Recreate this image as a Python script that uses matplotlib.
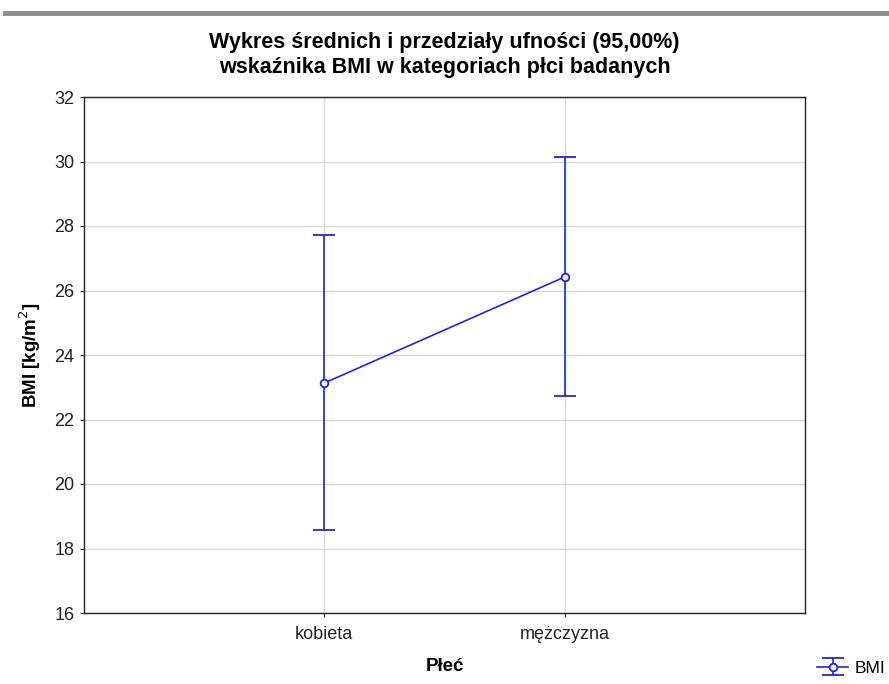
import numpy as np
import matplotlib
matplotlib.use("Agg")
import matplotlib.pyplot as plt

plt.rcParams['font.family'] = ['Liberation Sans', 'DejaVu Sans']

categories = ['kobieta', 'mężczyzna']
means = [23.13, 26.42]
lower = [18.57, 22.73]
upper = [27.72, 30.15]
yticks = [16, 18, 20, 22, 24, 26, 28, 30, 32]

x = np.arange(1, len(categories) + 1)
err = [np.array(means) - np.array(lower), np.array(upper) - np.array(means)]

fig = plt.figure(figsize=(8.89, 6.84), dpi=100)
ax = fig.add_axes([84 / 889, 1 - 613 / 684, 721 / 889, 516 / 684])

# grey rule at the top of the page
fig.add_artist(plt.Line2D([5 / 889, 1.0], [1 - 13 / 684] * 2, color='#8c8c8c', lw=3.5))

ax.errorbar(x, means, yerr=err, color='#2222ee', lw=1.2, capsize=8, capthick=1.2,
            marker='o', markersize=5.5, mfc='white', mec='#2222ee', mew=1.3, label='BMI', zorder=3)

ax.set_xlim(0, 3)
ax.set_ylim(16, 32)
ax.set_yticks(yticks)
ax.set_xticks(x)
ax.set_xticklabels(categories)
ax.grid(True, color='#d9d9d9', lw=1)
ax.set_axisbelow(True)
ax.tick_params(labelsize=13, length=3, width=0.8, colors='#222222')
ax.tick_params(axis='x', pad=6.5)
ax.tick_params(axis='y', pad=4)
for s in ax.spines.values():
    s.set_color('#222222')
    s.set_linewidth(1)

ax.set_ylabel('BMI [kg/m$^2$]', fontsize=13.5, fontweight='bold', labelpad=8)
ax.set_xlabel('Płeć', fontsize=13.5, fontweight='bold', labelpad=11)
ax.set_title('Wykres średnich i przedziały ufności (95,00%)\nwskaźnika BMI w kategoriach płci badanych',
             fontsize=15.5, fontweight='bold', pad=17, linespacing=1.28)

fig.legend(loc='center left', bbox_to_anchor=(810 / 889, 1 - 668 / 684), frameon=False, fontsize=12.5,
           handlelength=1.8, handletextpad=0.35, borderaxespad=0.0, borderpad=0.4)

fig.savefig('out.png', dpi=100)
